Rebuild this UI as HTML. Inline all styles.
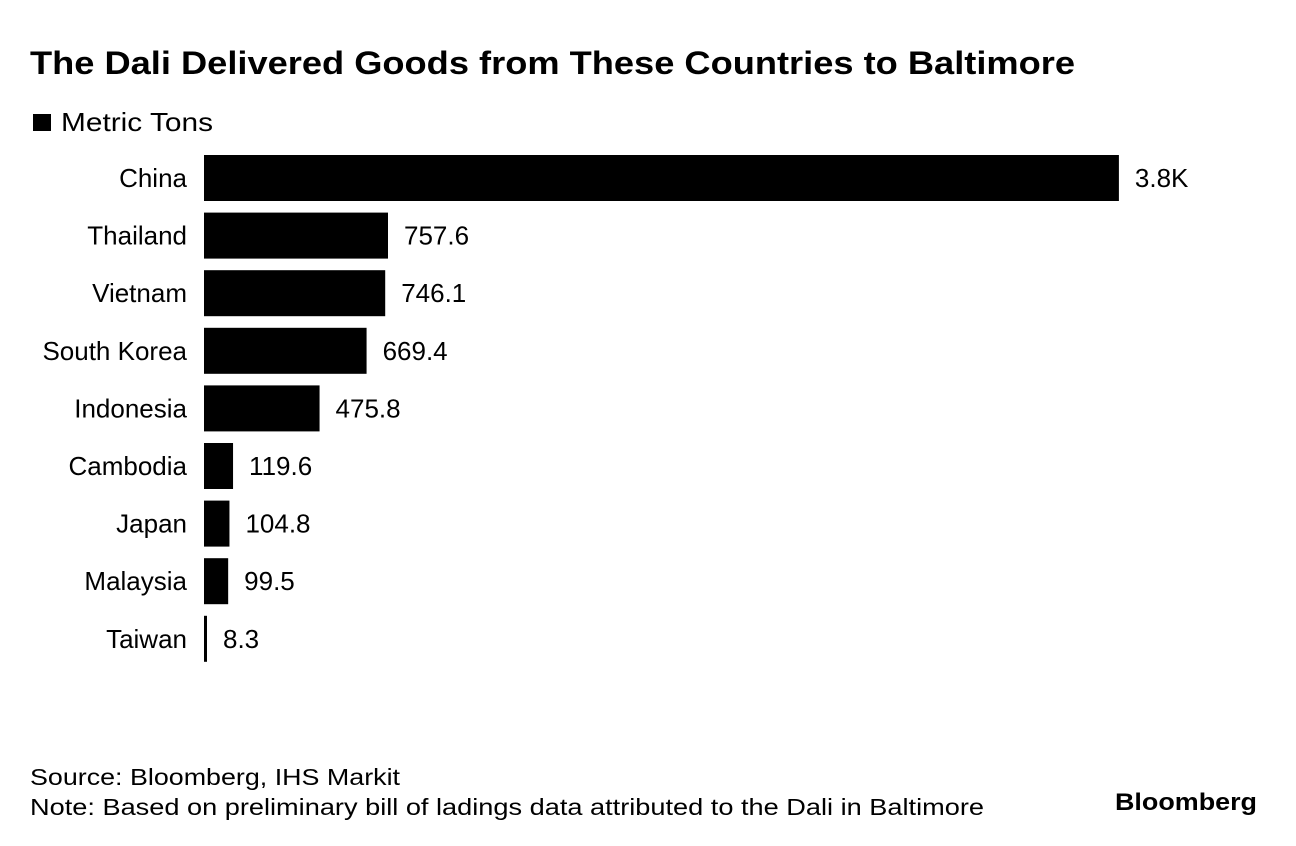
<!DOCTYPE html>
<html><head><meta charset="utf-8"><style>
body{margin:0;background:#fff;}
svg{display:block;font-family:"Liberation Sans",sans-serif;}
</style></head><body>
<svg id="chart" width="1296" height="846">
<text x="30" y="74" font-size="32" font-weight="bold" textLength="1045" lengthAdjust="spacingAndGlyphs">The Dali Delivered Goods from These Countries to Baltimore</text>
<rect x="33" y="114" width="18" height="17" fill="#000"/>
<text x="61" y="131" font-size="26" textLength="152" lengthAdjust="spacingAndGlyphs">Metric Tons</text>
<g id="bars"></g>
<text x="30" y="785" font-size="23" textLength="370" lengthAdjust="spacingAndGlyphs">Source: Bloomberg, IHS Markit</text>
<text x="30" y="815" font-size="23" textLength="954" lengthAdjust="spacingAndGlyphs">Note: Based on preliminary bill of ladings data attributed to the Dali in Baltimore</text>
<text x="1115" y="810" font-size="24" font-weight="bold" textLength="142" lengthAdjust="spacingAndGlyphs">Bloomberg</text>
</svg>
<script>
const categories = ["China","Thailand","Vietnam","South Korea","Indonesia","Cambodia","Japan","Malaysia","Taiwan"];
const values = [3767,757.6,746.1,669.4,475.8,119.6,104.8,99.5,8.3];
const valueLabels = ["3.8K","757.6","746.1","669.4","475.8","119.6","104.8","99.5","8.3"];
const x0 = 204, pxPerUnit = 184/757.6;
const y0 = 155, pitch = 57.6, barH = 46;
const xScale = v => x0 + Math.max(v * pxPerUnit, 3);
const yScale = i => y0 + i * pitch;
const g = document.getElementById('bars');
const NS = "http://www.w3.org/2000/svg";
categories.forEach((c, i) => {
  const y = yScale(i), xe = xScale(values[i]);
  const r = document.createElementNS(NS, 'rect');
  r.setAttribute('x', x0); r.setAttribute('y', y);
  r.setAttribute('width', xe - x0); r.setAttribute('height', barH);
  r.setAttribute('fill', '#000');
  
  
  g.appendChild(r);
  const l = document.createElementNS(NS, 'text');
  l.setAttribute('x', 187); l.setAttribute('y', y + 32);
  l.setAttribute('text-anchor', 'end'); l.setAttribute('font-size', '26');
  l.textContent = c;
  
  
  g.appendChild(l);
  const v = document.createElementNS(NS, 'text');
  v.setAttribute('x', xe + 16); v.setAttribute('y', y + 32);
  v.setAttribute('font-size', '26');
  v.textContent = valueLabels[i];
  
  
  g.appendChild(v);
});
</script>
</body></html>
